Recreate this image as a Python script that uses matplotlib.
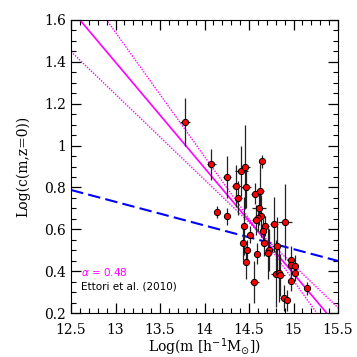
import matplotlib
matplotlib.use("Agg")
import matplotlib.pyplot as plt

# cluster measurements: log mass, log concentration, errors
log_m = [13.78, 14.073, 14.25, 14.414, 14.459, 14.354, 14.466, 14.38, 14.144, 14.25,
         14.64, 14.57, 14.62, 14.612, 14.63, 14.60, 14.575, 14.44, 14.515, 14.68,
         14.654, 14.78, 14.90, 14.43, 14.474, 14.463, 14.672, 14.72, 14.713, 14.586,
         14.815, 14.556, 14.80, 14.833, 14.852, 14.968, 14.97, 15.013, 15.013, 14.968,
         14.893, 14.93, 15.15]
log_c = [1.111, 0.911, 0.851, 0.879, 0.898, 0.805, 0.801, 0.749, 0.683, 0.662,
         0.925, 0.769, 0.783, 0.703, 0.664, 0.654, 0.644, 0.616, 0.574, 0.616,
         0.590, 0.624, 0.635, 0.535, 0.500, 0.442, 0.533, 0.501, 0.485, 0.483,
         0.519, 0.350, 0.388, 0.391, 0.380, 0.452, 0.428, 0.426, 0.393, 0.354,
         0.272, 0.261, 0.318]
m_err = [0.06, 0.05, 0.045, 0.07, 0.05, 0.05, 0.06, 0.04, 0.03, 0.03,
         0.02, 0.05, 0.05, 0.08, 0.05, 0.04, 0.04, 0.03, 0.03, 0.04,
         0.04, 0.04, 0.08, 0.03, 0.03, 0.03, 0.04, 0.04, 0.04, 0.03,
         0.06, 0.05, 0.05, 0.05, 0.05, 0.04, 0.03, 0.04, 0.03, 0.03,
         0.04, 0.03, 0.02]
c_err = [0.115, 0.075, 0.10, 0.12, 0.20, 0.10, 0.10, 0.08, 0.03, 0.04,
         0.03, 0.05, 0.13, 0.08, 0.10, 0.06, 0.07, 0.14, 0.04, 0.05,
         0.06, 0.13, 0.18, 0.08, 0.05, 0.08, 0.06, 0.10, 0.12, 0.05,
         0.14, 0.10, 0.16, 0.14, 0.10, 0.07, 0.04, 0.05, 0.04, 0.05,
         0.06, 0.05, 0.03]

# fitted relations (end points)
fit_x = [12.5, 15.5]
fit_y = [1.6505, 0.1355]
band_a_x = [12.5, 15.5]
band_a_y = [1.837, 0.058]
band_b_x = [12.5, 15.5]
band_b_y = [1.449, 0.225]
ettori_x = [12.5, 15.5]
ettori_y = [0.788, 0.449]

fig = plt.figure(figsize=(3.57, 3.57), dpi=100)
ax = fig.add_axes([0.199, 0.123, 0.748, 0.821])

ax.plot(ettori_x, ettori_y, color="blue", lw=1.5, dashes=(6, 2.5))
ax.plot(fit_x, fit_y, color="magenta", lw=1.2)
ax.plot(band_a_x, band_a_y, color="magenta", lw=1.0, ls=(0, (1, 1)))
ax.plot(band_b_x, band_b_y, color="magenta", lw=1.0, ls=(0, (1, 1)))

ax.errorbar(log_m, log_c, xerr=m_err, yerr=c_err, fmt="o", ms=4.5,
            mfc="red", mec="black", mew=0.7, ecolor="#222222", elinewidth=0.9,
            capsize=0, zorder=3)

ax.text(12.61, 0.375, r"$\alpha$ = 0.48", color="magenta", fontsize=7.5)
ax.text(12.61, 0.312, "Ettori et al. (2010)", color="black", fontsize=7.5)

ax.set_xlim(12.5, 15.5)
ax.set_ylim(0.2, 1.6)
ax.set_xticks([12.5, 13, 13.5, 14, 14.5, 15, 15.5])
ax.set_xticklabels(["12.5", "13", "13.5", "14", "14.5", "15", "15.5"])
ax.set_yticks([0.2, 0.4, 0.6, 0.8, 1.0, 1.2, 1.4, 1.6])
ax.set_yticklabels(["0.2", "0.4", "0.6", "0.8", "1", "1.2", "1.4", "1.6"])
ax.xaxis.set_minor_locator(matplotlib.ticker.MultipleLocator(0.1))
ax.yaxis.set_minor_locator(matplotlib.ticker.MultipleLocator(0.05))
ax.tick_params(which="both", direction="in", top=True, right=True,
               labelsize=10, labelfontfamily="DejaVu Serif")
ax.tick_params(which="major", length=7, width=0.9)
ax.tick_params(which="minor", length=3.5, width=0.8)
ax.tick_params(axis="x", which="major", pad=7)

ax.set_xlabel(r"Log(m [h$^{-1}$M$_{\odot}$])", fontsize=10, family="DejaVu Serif", labelpad=0)
ax.set_ylabel("Log(c(m,z=0))", fontsize=10, family="DejaVu Serif", labelpad=10)

plt.savefig("out.png", dpi=100)
